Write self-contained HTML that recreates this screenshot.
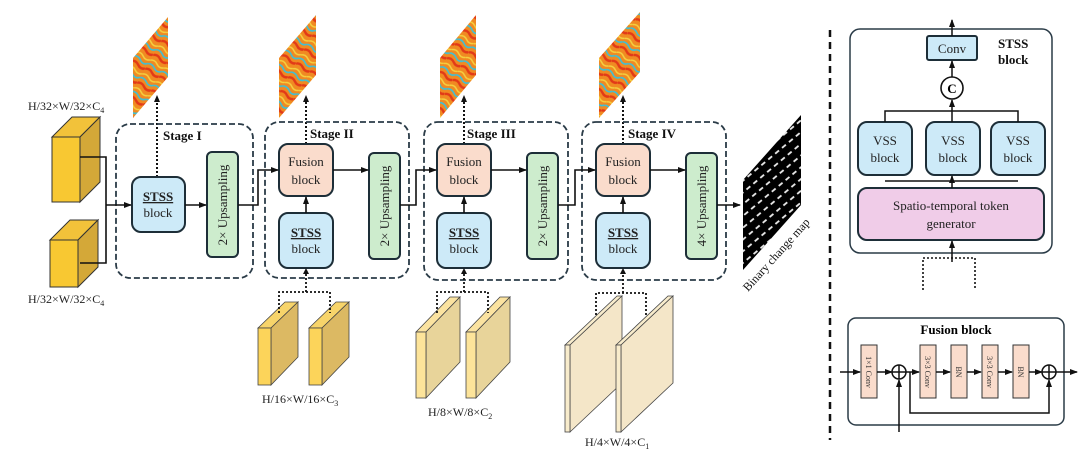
<!DOCTYPE html>
<html><head><meta charset="utf-8"><style>
html,body{margin:0;padding:0;background:#fff;}
svg{display:block;font-family:"Liberation Serif",serif;}
</style></head><body>
<svg width="1080" height="453" viewBox="0 0 1080 453" xmlns="http://www.w3.org/2000/svg">
<defs>
<marker id="ar" markerWidth="8" markerHeight="8" refX="7" refY="4" orient="auto" markerUnits="userSpaceOnUse"><path d="M0,1 L8,4 L0,7 Z" fill="#111"/></marker>
<pattern id="hp" width="16" height="16" patternUnits="userSpaceOnUse" patternTransform="rotate(30)">
<rect width="16" height="16" fill="#f08a22"/>
<path d="M0,3 Q4,0 8,3 T16,3" stroke="#e23a18" stroke-width="2.5" fill="none"/>
<path d="M0,9 Q4,6 8,9 T16,9" stroke="#f4d040" stroke-width="1.5" fill="none"/>
<path d="M0,13 Q4,11 8,14 T16,13" stroke="#3cc0d8" stroke-width="1.6" fill="none"/>
</pattern>
<pattern id="bp" width="9" height="9" patternUnits="userSpaceOnUse" patternTransform="rotate(-40)">
<rect width="9" height="9" fill="#000"/><path d="M0,4 H5" stroke="#eee" stroke-width="1.8"/></pattern>
</defs>

<!-- heatmaps -->
<polygon points="133,58 168,17 168,77 133,118" fill="url(#hp)"/>
<polygon points="279,58 316,15 316,75 279,118" fill="url(#hp)"/>
<polygon points="440,58 476,15 476,75 440,118" fill="url(#hp)"/>
<polygon points="599,58 640,12 640,72 599,118" fill="url(#hp)"/>
<polygon points="743,180 801,115 801,205 743,270" fill="url(#bp)"/>
<text x="0" y="0" font-size="12" transform="translate(748,292) rotate(-48)" fill="#111">Binary change map</text>

<g stroke="#111" stroke-width="2" stroke-dasharray="2,2" fill="none">
<line x1="157" y1="177" x2="157" y2="100"/>
<line x1="306" y1="144" x2="306" y2="100"/>
<line x1="464" y1="144" x2="464" y2="100"/>
<line x1="623" y1="144" x2="623" y2="100"/>
</g>
<g fill="#111"><path d="M154,102 L157,95 L160,102Z"/><path d="M303,102 L306,95 L309,102Z"/><path d="M461,102 L464,95 L467,102Z"/><path d="M620,102 L623,95 L626,102Z"/></g>

<g fill="none" stroke="#2a3b47" stroke-width="1.8" stroke-dasharray="6,3">
<rect x="116" y="124" width="137" height="154" rx="14"/>
<rect x="265" y="122" width="144" height="156" rx="14"/>
<rect x="424" y="122" width="144" height="158" rx="14"/>
<rect x="582" y="122" width="144" height="158" rx="14"/>
</g>
<g font-weight="bold" font-size="13" fill="#111">
<text x="163" y="140">Stage I</text>
<text x="310" y="138">Stage II</text>
<text x="467" y="138">Stage III</text>
<text x="628" y="138">Stage IV</text>
</g>

<g stroke="#1d2e38" stroke-width="2">
<rect x="132" y="177" width="53" height="55" rx="9" fill="#cdeaf8"/>
<rect x="207" y="152" width="31" height="105" rx="5" fill="#cdeccd"/>
<rect x="279" y="144" width="54" height="52" rx="9" fill="#fadccc"/>
<rect x="279" y="213" width="54" height="55" rx="9" fill="#cdeaf8"/>
<rect x="369" y="153" width="31" height="106" rx="5" fill="#cdeccd"/>
<rect x="437" y="144" width="54" height="52" rx="9" fill="#fadccc"/>
<rect x="437" y="213" width="54" height="55" rx="9" fill="#cdeaf8"/>
<rect x="527" y="153" width="31" height="106" rx="5" fill="#cdeccd"/>
<rect x="596" y="144" width="54" height="52" rx="9" fill="#fadccc"/>
<rect x="596" y="213" width="54" height="55" rx="9" fill="#cdeaf8"/>
<rect x="686" y="153" width="31" height="106" rx="5" fill="#cdeccd"/>
</g>
<g font-size="13" fill="#222" text-anchor="middle">
<text x="158" y="201" font-weight="bold" text-decoration="underline">STSS</text><text x="158" y="217">block</text>
<text x="306" y="166">Fusion</text><text x="306" y="184">block</text>
<text x="306" y="237" font-weight="bold" text-decoration="underline">STSS</text><text x="306" y="253">block</text>
<text x="464" y="166">Fusion</text><text x="464" y="184">block</text>
<text x="464" y="237" font-weight="bold" text-decoration="underline">STSS</text><text x="464" y="253">block</text>
<text x="623" y="166">Fusion</text><text x="623" y="184">block</text>
<text x="623" y="237" font-weight="bold" text-decoration="underline">STSS</text><text x="623" y="253">block</text>
<text transform="translate(227,205) rotate(-90)">2× Upsampling</text>
<text transform="translate(389,206) rotate(-90)">2× Upsampling</text>
<text transform="translate(547,206) rotate(-90)">2× Upsampling</text>
<text transform="translate(706,206) rotate(-90)">4× Upsampling</text>
</g>

<g stroke="#333" stroke-width="1">
<polygon points="52,137 72,117 100,117 80,137" fill="#f2c23a"/>
<polygon points="80,137 100,117 100,182 80,202" fill="#d4a838"/>
<rect x="52" y="137" width="28" height="65" fill="#f8c832"/>
<polygon points="50,240 70,220 98,220 78,240" fill="#f2c23a"/>
<polygon points="78,240 98,220 98,267 78,287" fill="#d4a838"/>
<rect x="50" y="240" width="28" height="47" fill="#f8c832"/>
</g>
<g font-size="12" fill="#222"><text x="28" y="110">H/32×W/32×C<tspan font-size="8" dy="3">4</tspan></text>
<text x="28" y="303">H/32×W/32×C<tspan font-size="8" dy="3">4</tspan></text></g>

<g stroke="#111" stroke-width="1.6" fill="none">
<polyline points="80,157 106,157 106,205"/><polyline points="80,263 106,263 106,205"/>
<line x1="106" y1="205" x2="131" y2="205" marker-end="url(#ar)"/>
<line x1="185" y1="205" x2="206" y2="205" marker-end="url(#ar)"/>
<polyline points="238,205 258,205 258,170 278,170" marker-end="url(#ar)"/>
<line x1="333" y1="170" x2="368" y2="170" marker-end="url(#ar)"/>
<line x1="306" y1="213" x2="306" y2="197" marker-end="url(#ar)"/>
<polyline points="400,205 416,205 416,170 436,170" marker-end="url(#ar)"/>
<line x1="491" y1="170" x2="526" y2="170" marker-end="url(#ar)"/>
<line x1="464" y1="213" x2="464" y2="197" marker-end="url(#ar)"/>
<polyline points="558,205 575,205 575,170 595,170" marker-end="url(#ar)"/>
<line x1="650" y1="170" x2="685" y2="170" marker-end="url(#ar)"/>
<line x1="623" y1="213" x2="623" y2="197" marker-end="url(#ar)"/>
<line x1="717" y1="205" x2="740" y2="205" marker-end="url(#ar)"/>
</g>

<g stroke="#444" stroke-width="0.8">
<polygon points="258,328 285,302 298,302 271,328" fill="#f7d46a"/>
<polygon points="271,328 298,302 298,357 271,385" fill="#dcb963"/>
<rect x="258" y="328" width="13" height="57" fill="#fcd45a"/>
<polygon points="309,328 336,302 349,302 322,328" fill="#f7d46a"/>
<polygon points="322,328 349,302 349,357 322,385" fill="#dcb963"/>
<rect x="309" y="328" width="13" height="57" fill="#fcd45a"/>
<polygon points="416,332 450,297 460,297 426,332" fill="#fbe3a0"/>
<polygon points="426,332 460,297 460,362 426,398" fill="#e8d49a"/>
<rect x="416" y="332" width="10" height="66" fill="#fde49a"/>
<polygon points="466,332 500,297 510,297 476,332" fill="#fbe3a0"/>
<polygon points="476,332 510,297 510,362 476,398" fill="#e8d49a"/>
<rect x="466" y="332" width="10" height="66" fill="#fde49a"/>
<polygon points="565,345 617,296 622,296 570,345" fill="#f8eccc"/>
<polygon points="570,345 622,296 622,383 570,432" fill="#f4e6c8"/>
<rect x="565" y="345" width="5" height="87" fill="#f8eccc"/>
<polygon points="616,345 668,296 673,296 621,345" fill="#f8eccc"/>
<polygon points="621,345 673,296 673,383 621,432" fill="#f4e6c8"/>
<rect x="616" y="345" width="5" height="87" fill="#f8eccc"/>
</g>
<g font-size="12" fill="#222">
<text x="262" y="403">H/16×W/16×C<tspan font-size="8" dy="3">3</tspan></text>
<text x="428" y="416">H/8×W/8×C<tspan font-size="8" dy="3">2</tspan></text>
<text x="585" y="446">H/4×W/4×C<tspan font-size="8" dy="3">1</tspan></text>
</g>
<g stroke="#111" stroke-width="1.8" stroke-dasharray="2,2" fill="none">
<polyline points="279,313 279,292 330,292 330,313"/><line x1="306" y1="292" x2="306" y2="272"/>
<polyline points="437,313 437,292 488,292 488,313"/><line x1="464" y1="292" x2="464" y2="272"/>
<polyline points="596,315 596,293 646,293 646,315"/><line x1="623" y1="293" x2="623" y2="272"/>
</g>
<g fill="#111"><path d="M303,274 L306,268 L309,274Z"/><path d="M461,274 L464,268 L467,274Z"/><path d="M620,274 L623,268 L626,274Z"/></g>

<line x1="830" y1="30" x2="830" y2="440" stroke="#111" stroke-width="2.5" stroke-dasharray="7,5"/>

<rect x="850" y="29" width="202" height="224" rx="10" fill="none" stroke="#2a3b47" stroke-width="1.5"/>
<g stroke="#1d2e38" stroke-width="2">
<rect x="927" y="36" width="50" height="24" rx="2" fill="#cdeaf8"/>
<rect x="858" y="122" width="54" height="53" rx="9" fill="#cdeaf8"/>
<rect x="926" y="122" width="54" height="53" rx="9" fill="#cdeaf8"/>
<rect x="991" y="122" width="54" height="53" rx="9" fill="#cdeaf8"/>
<rect x="858" y="188" width="186" height="52" rx="9" fill="#f0cce8"/>
</g>
<circle cx="952" cy="88" r="11" fill="#fff" stroke="#111" stroke-width="1.6"/>
<text x="952" y="93" font-size="13" font-weight="bold" text-anchor="middle">C</text>
<g stroke="#111" stroke-width="1.5" fill="none">
<line x1="952" y1="36" x2="952" y2="20" marker-end="url(#ar)"/>
<line x1="952" y1="77" x2="952" y2="61" marker-end="url(#ar)"/>
<polyline points="885,122 885,111 1018,111 1018,122"/><line x1="952" y1="122" x2="952" y2="100" marker-end="url(#ar)"/>
<line x1="952" y1="188" x2="952" y2="176" marker-end="url(#ar)"/>
<line x1="885" y1="181" x2="1018" y2="181"/>
<line x1="952" y1="262" x2="952" y2="241" marker-end="url(#ar)"/>
</g>
<g stroke="#111" stroke-width="1.6" stroke-dasharray="2,2" fill="none"><polyline points="923,290 923,258 975,258 975,290"/></g>
<g font-size="13" fill="#222" text-anchor="middle">
<text x="952" y="53">Conv</text>
<text x="885" y="145">VSS</text><text x="885" y="162">block</text>
<text x="953" y="145">VSS</text><text x="953" y="162">block</text>
<text x="1018" y="145">VSS</text><text x="1018" y="162">block</text>
<text x="951" y="210">Spatio-temporal token</text><text x="951" y="228">generator</text>
</g>
<g font-size="13" font-weight="bold" fill="#111"><text x="998" y="48">STSS</text><text x="998" y="64">block</text></g>

<rect x="848" y="318" width="216" height="107" rx="8" fill="none" stroke="#2a3b47" stroke-width="1.5"/>
<text x="956" y="334" font-size="13" font-weight="bold" text-anchor="middle">Fusion block</text>
<g stroke="#333" stroke-width="1" fill="#fadccc">
<rect x="861" y="345" width="16" height="53"/><rect x="920" y="345" width="16" height="53"/>
<rect x="951" y="345" width="16" height="53"/><rect x="982" y="345" width="16" height="53"/>
<rect x="1013" y="345" width="16" height="53"/>
</g>
<g font-size="8" fill="#333" text-anchor="middle">
<text transform="translate(866,372) rotate(90)">1×1 Conv</text>
<text transform="translate(925,372) rotate(90)">3×3 Conv</text>
<text transform="translate(956,372) rotate(90)">BN</text>
<text transform="translate(987,372) rotate(90)">3×3 Conv</text>
<text transform="translate(1018,372) rotate(90)">BN</text>
</g>
<g stroke="#111" stroke-width="1.5" fill="none">
<line x1="840" y1="372" x2="860" y2="372" marker-end="url(#ar)"/>
<line x1="877" y1="372" x2="892" y2="372" marker-end="url(#ar)"/>
<circle cx="899" cy="372" r="7" fill="#fff"/><line x1="892" y1="372" x2="906" y2="372"/><line x1="899" y1="365" x2="899" y2="379"/>
<line x1="899" y1="432" x2="899" y2="380" marker-end="url(#ar)"/>
<line x1="906" y1="372" x2="919" y2="372" marker-end="url(#ar)"/>
<line x1="936" y1="372" x2="950" y2="372" marker-end="url(#ar)"/>
<line x1="967" y1="372" x2="981" y2="372" marker-end="url(#ar)"/>
<line x1="998" y1="372" x2="1012" y2="372" marker-end="url(#ar)"/>
<line x1="1029" y1="372" x2="1042" y2="372" marker-end="url(#ar)"/>
<circle cx="1049" cy="372" r="7" fill="#fff"/><line x1="1042" y1="372" x2="1056" y2="372"/><line x1="1049" y1="365" x2="1049" y2="379"/>
<polyline points="910,372 910,413 1049,413 1049,380" marker-end="url(#ar)"/>
<line x1="1056" y1="372" x2="1077" y2="372" marker-end="url(#ar)"/>
</g>
</svg>
</body></html>
